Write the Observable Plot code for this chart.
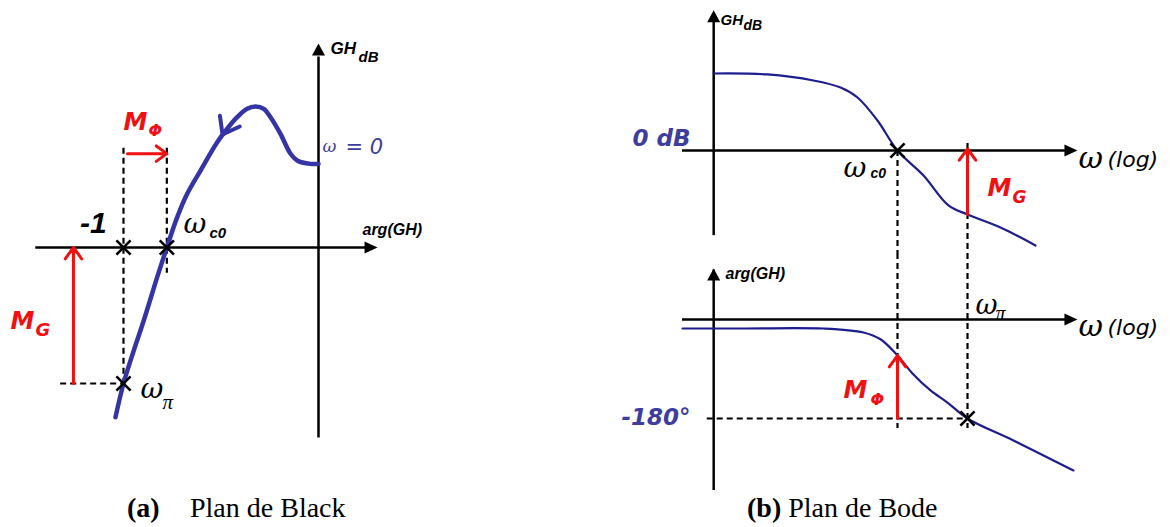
<!DOCTYPE html>
<html>
<head>
<meta charset="utf-8">
<script src="https://cdn.jsdelivr.net/npm/d3@7"></script>
<script src="https://cdn.jsdelivr.net/npm/@observablehq/plot@0.6"></script>
<style>
  body { margin: 0; background: #fff; }
  #fig { position: relative; width: 1170px; height: 527px; overflow: hidden; background: #fff; }
  .panel { position: absolute; }
  .panel svg { background: transparent; }
  .cap { position: absolute; top: 494px; font-family: "Liberation Serif", "Times New Roman", serif;
         font-size: 28px; line-height: 28px; color: #000; white-space: nowrap; }
  .cap b { font-weight: bold; }
</style>
</head>
<body>
<div id="fig">
  <div class="panel" id="black" style="left:0;top:0"></div>
  <div class="panel" id="mag" style="left:590px;top:0"></div>
  <div class="panel" id="phase" style="left:590px;top:255px"></div>
  <div class="cap" style="left:127px"><b>(a)</b></div>
  <div class="cap" style="left:190px">Plan de Black</div>
  <div class="cap" style="left:747px"><b>(b)</b> Plan de Bode</div>
</div>
<script>
// ---- Black plane: open-loop locus, phase (degrees) vs gain (dB) ----
const blackArg  = [0, -7.4, -19.7, -25.8, -35.1, -44.3, -50.5, -58.2, -65.9, -75.1, -84.3, -93.5, -108.9, -121.2, -130.4, -140, -148.9, -161.3, -170.5, -180, -187.4];
const blackGain = [6.15, 6.15, 6.4, 6.89, 8.36, 9.58, 10.2, 10.37, 10.2, 9.58, 8.73, 7.74, 5.66, 3.95, 2.23, 0, -2.18, -5.37, -7.57, -10, -12.48];

// ---- Bode plane: gain (dB) and phase (degrees) vs ω (log) ----
const magOmega   = [0.162, 0.276, 0.435, 0.569, 0.673, 0.82, 1, 1.294, 1.657, 2, 2.773, 3.921];
const magGain    = [12.03, 11.88, 10.94, 9.84, 8.28, 4.69, 0, -3.91, -8.59, -10, -12.03, -14.84];
const phaseOmega = [0.119, 0.2, 0.48, 0.714, 0.845, 1, 1.16, 1.387, 1.64, 2, 3.153, 5.71];
const phaseDeg   = [-16.4, -16.4, -16.4, -23.6, -36, -65.5, -98, -129, -151, -180, -220, -274.5];

// key points
const argCritical = -180;   // the -1 point
const argCrossover = -140;  // phase at ω_c0 on the Black locus
const gainAtPi = -10;       // gain at ω_π (dB)
const omegaC0 = 1, omegaPi = 2, omegaAxis = 0.162;
const phaseAtC0 = -65.5;

const blackPts = blackArg.map((a, i) => ({arg: a, gain: blackGain[i]}));
const magPts = magOmega.map((w, i) => ({w, g: magGain[i]}));
const phasePts = phaseOmega.map((w, i) => ({w, p: phaseDeg[i]}));

// ---- styles ----
const locusBlue = "#3434a6", bodeBlue = "#1d1d8e", labelBlue = "#3d3da0", red = "#f01010";
const dash = {stroke: "#000", strokeWidth: 2.2, strokeDasharray: "6,4"};
const axisStyle = {stroke: "#000", strokeWidth: 2.5};
const sansBI = {fontFamily: "Liberation Sans, Arial, sans-serif", fontWeight: "bold", fontStyle: "italic"};
const comic = {fontFamily: "DejaVu Sans, sans-serif", fontWeight: "bold", fontStyle: "oblique"};
const serifI = {fontFamily: "DejaVu Serif, Liberation Serif, serif", fontStyle: "italic"};
const timesI = {fontFamily: "Liberation Serif, Times New Roman, serif", fontStyle: "italic"};

// filled arrowhead with its tip at the anchor point
const head = (ux, uy, len, half) => ({draw(ctx) {
  const px = -uy, py = ux;
  ctx.moveTo(0, 0);
  ctx.lineTo(-ux * len + px * half, -uy * len + py * half);
  ctx.lineTo(-ux * len - px * half, -uy * len - py * half);
  ctx.closePath();
}});
const headRight = head(1, 0, 13, 6);
const headUp = head(0, -1, 12, 6.5);

// open chevron pointing along a direction (screen angle, degrees)
const chevron = (angle, len, halfAngle) => ({draw(ctx) {
  const a = angle * Math.PI / 180, h = halfAngle * Math.PI / 180;
  const b1 = a + Math.PI - h, b2 = a + Math.PI + h;
  ctx.moveTo(len * Math.cos(b1), len * Math.sin(b1));
  ctx.lineTo(0, 0);
  ctx.lineTo(len * Math.cos(b2), len * Math.sin(b2));
}});

const pt = (x, y) => [{x, y}];
const txt = (x, y, s, style) => Plot.text([{x, y, s}], {x: "x", y: "y", text: "s", textAnchor: "start", lineAnchor: "middle", ...style});
const tip = (x, y, symbol) => Plot.dot(pt(x, y), {x: "x", y: "y", symbol, fill: "#000", stroke: "none"});
const cross = (pts) => Plot.dot(pts, {x: "x", y: "y", symbol: "times", r: 6.5, stroke: "#000", strokeWidth: 2.6});
const marginArrow = (x1, y1, x2, y2) => Plot.arrow([{x1, y1, x2, y2}], {x1: "x1", y1: "y1", x2: "x2", y2: "y2", stroke: red, strokeWidth: 3, headLength: 7, headAngle: 72});

// ---- (a) Black plane ----
const black = Plot.plot({
  width: 470, height: 490, margin: 0,
  x: {domain: [-180, 0], range: [123, 318], axis: null},
  y: {domain: [0, -10], range: [247, 383], axis: null},
  marks: [
    Plot.ruleX([argCritical], {y1: 7.3, y2: gainAtPi, ...dash}),
    Plot.ruleX([argCrossover], {y1: 7.3, y2: -1.9, ...dash}),
    Plot.ruleY([gainAtPi], {x1: -238, x2: argCritical, ...dash}),
    Plot.ruleY([0], {x1: -261, x2: 50, ...axisStyle}),
    Plot.ruleX([0], {y1: -14, y2: 14, ...axisStyle}),
    tip(54.5, 0, headRight),
    tip(0, 15, headUp),
    Plot.line(blackPts, {x: "arg", y: "gain", curve: "catmull-rom", stroke: locusBlue, strokeWidth: 4.5}),
    Plot.dot(pt(-88.6, 8.31), {x: "x", y: "y", symbol: chevron(118.6, 19, 36.5), fill: "none", stroke: locusBlue, strokeWidth: 4, strokeLinecap: "round", strokeLinejoin: "round"}),
    marginArrow(-176.3, 6.9, argCrossover, 6.9),
    marginArrow(-226.2, gainAtPi, -226.2, 0),
    cross([{x: argCritical, y: 0}, {x: argCrossover, y: 0}, {x: argCritical, y: gainAtPi}]),
    txt(11.1, 14.63, "GH", {...sansBI, fontSize: 17}),
    txt(36.9, 13.97, "dB", {...sansBI, fontSize: 15}),
    txt(40.6, 1.32, "arg(GH)", {...sansBI, fontSize: 16}),
    txt(-195.5, 1.75, "-1", {...sansBI, fontSize: 30, textAnchor: "end"}),
    txt(-124.6, 1.75, "ω", {...serifI, fontSize: 28}),
    txt(-100.6, 1.03, "c0", {...sansBI, fontSize: 15}),
    txt(-164.3, -10.4, "ω", {...serifI, fontSize: 28}),
    txt(-144.0, -11.4, "π", {...timesI, fontSize: 21}),
    txt(3.7, 7.4, "ω", {...serifI, fontSize: 17, fill: labelBlue}),
    txt(24.9, 7.35, "= 0", {fontFamily: "DejaVu Sans, sans-serif", fontStyle: "oblique", fontSize: 21, fill: labelBlue}),
    txt(-180, 9.23, "M", {...comic, fontSize: 24, fill: red}),
    txt(-156.9, 8.6, "Φ", {...comic, fontSize: 16, fill: red}),
    txt(-284.3, -5.44, "M", {...comic, fontSize: 24, fill: red}),
    txt(-261.2, -6.1, "G", {...comic, fontSize: 18, fill: red})
  ]
});
document.getElementById("black").append(black);

// ---- (b) Bode plane: gain ----
const mag = Plot.plot({
  width: 580, height: 255, margin: 0,
  x: {type: "log", domain: [omegaC0, omegaPi], range: [307, 377], axis: null},
  y: {domain: [0, -10], range: [150, 214], axis: null},
  marks: [
    Plot.ruleX([omegaC0], {y1: 0, y2: -17, ...dash}),
    Plot.ruleX([omegaPi], {y1: 1.1, y2: -17, ...dash}),
    Plot.ruleY([0], {x1: 0.119, x2: 5.6, ...axisStyle}),
    Plot.ruleX([omegaAxis], {y1: -13.3, y2: 21, ...axisStyle}),
    tip(5.94, 0, headRight),
    tip(omegaAxis, 21.9, headUp),
    Plot.line(magPts, {x: "w", y: "g", curve: "catmull-rom", stroke: bodeBlue, strokeWidth: 2.2}),
    marginArrow(omegaPi, gainAtPi, omegaPi, 0.25),
    cross([{x: omegaC0, y: 0}]),
    txt(0.1733, 20.4, "GH", {...sansBI, fontSize: 15}),
    txt(0.2177, 19.5, "dB", {...sansBI, fontSize: 14}),
    txt(0.1288, 1.8, "0 dB", {...comic, fontSize: 23, fill: labelBlue, textAnchor: "end"}),
    txt(0.5857, -2.8, "ω", {...serifI, fontSize: 28}),
    txt(0.7654, -3.6, "c0", {...sansBI, fontSize: 14}),
    txt(6.0, -1.3, "ω", {...serifI, fontSize: 30}),
    txt(8.0, -1.4, "(log)", {fontFamily: "DejaVu Sans, sans-serif", fontStyle: "oblique", fontSize: 22, fill: "#000"}),
    txt(2.438, -5.94, "M", {...comic, fontSize: 24, fill: red}),
    txt(3.123, -7.34, "G", {...comic, fontSize: 17, fill: red})
  ]
});
document.getElementById("mag").append(mag);

// ---- (b) Bode plane: phase ----
const phase = Plot.plot({
  width: 580, height: 235, margin: 0,
  x: {type: "log", domain: [omegaC0, omegaPi], range: [307, 377], axis: null},
  y: {domain: [0, -180], range: [64, 163], axis: null},
  marks: [
    Plot.ruleX([omegaC0], {y1: 120, y2: -198, ...dash}),
    Plot.ruleX([omegaPi], {y1: 120, y2: -198, ...dash}),
    Plot.ruleY([-180], {x1: 0.152, x2: omegaPi, ...dash}),
    Plot.ruleY([0], {x1: 0.119, x2: 5.6, ...axisStyle}),
    Plot.ruleX([omegaAxis], {y1: 90, y2: -330, ...axisStyle}),
    tip(5.94, 0, headRight),
    tip(omegaAxis, 92.7, headUp),
    Plot.line(phasePts, {x: "w", y: "p", curve: "catmull-rom", stroke: bodeBlue, strokeWidth: 2.2}),
    marginArrow(omegaC0, -180, omegaC0, phaseAtC0),
    cross([{x: omegaPi, y: -180}]),
    txt(0.1821, 83.6, "arg(GH)", {...sansBI, fontSize: 16}),
    txt(0.1288, -178, "-180°", {...comic, fontSize: 23, fill: labelBlue, textAnchor: "end"}),
    txt(0.5857, -129, "M", {...comic, fontSize: 24, fill: red}),
    txt(0.7654, -147, "Φ", {...comic, fontSize: 16, fill: red}),
    txt(2.165, 26, "ω", {...serifI, fontSize: 27}),
    txt(2.638, 10.9, "π", {...timesI, fontSize: 20}),
    txt(6.0, -12, "ω", {...serifI, fontSize: 30}),
    txt(8.0, -14.5, "(log)", {fontFamily: "DejaVu Sans, sans-serif", fontStyle: "oblique", fontSize: 22, fill: "#000"})
  ]
});
document.getElementById("phase").append(phase);
</script>
</body>
</html>
